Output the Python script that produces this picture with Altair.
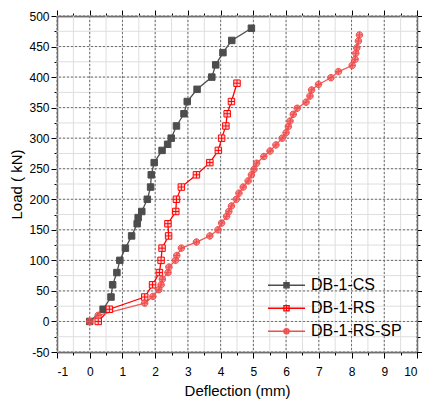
import altair as alt
import pandas as pd

# ---------------- data ----------------
series_names = ["DB-1-CS", "DB-1-RS", "DB-1-RS-SP"]

cs_x = [0, 0.41, 0.65, 0.70, 0.83, 0.92, 1.09, 1.28, 1.45, 1.48, 1.59, 1.76, 1.86, 1.88,
        1.97, 2.21, 2.38, 2.49, 2.65, 2.88, 2.98, 3.28, 3.73, 3.85, 4.07, 4.34, 4.94]
cs_load = [0, 20, 40, 60, 80, 100, 120, 140, 160, 170, 180, 200, 220, 240,
           260, 280, 290, 300, 320, 340, 360, 380, 400, 420, 440, 460, 480]

rs_x = [0.26, 0.60, 1.68, 1.92, 2.13, 2.18, 2.21, 2.41, 2.39, 2.63, 2.65, 2.80, 3.26,
        3.67, 3.93, 4.03, 4.16, 4.20, 4.33, 4.50]
rs_load = [0, 20, 40, 60, 80, 100, 120, 140, 160, 180, 200, 220, 240,
           260, 280, 300, 320, 340, 360, 390]

sp_x = [0, 0.26, 1.68, 1.93, 2.11, 2.18, 2.22, 2.39, 2.42, 2.62, 2.66, 2.80, 3.26, 3.67,
        3.92, 4.03, 4.18, 4.25, 4.33, 4.48, 4.56, 4.69, 4.84, 4.94, 5.02, 5.10, 5.32,
        5.51, 5.69, 5.88, 6.00, 6.07, 6.12, 6.22, 6.34, 6.61, 6.73, 6.78, 6.99, 7.37,
        7.60, 8.02, 8.11, 8.13, 8.16, 8.21, 8.24]
sp_load = [0, 10, 30, 41, 52, 60, 69, 80, 89, 100, 108, 120, 130, 140,
           150, 161, 172, 180, 189, 200, 210, 220, 230, 240, 249, 259, 270,
           279, 289, 300, 309, 319, 328, 339, 349, 359, 369, 379, 388, 399,
           409, 419, 429, 439, 448, 459, 469]

x_major = list(range(-1, 11))
x_minor = [v + 0.5 for v in range(-1, 10)]
x_light = [v * 0.5 for v in range(-2, 21)]
y_major = list(range(-50, 501, 50))
y_minor = list(range(-25, 500, 50))
y_light = list(range(-50, 501, 25))

# ---------------- build tables ----------------
rows = []
for name, xs_, ys_ in zip(series_names, [cs_x, rs_x, sp_x], [cs_load, rs_load, sp_load]):
    for i, (a, b) in enumerate(zip(xs_, ys_)):
        rows.append({"series": name, "defl": a, "load": b, "order": i})
df = pd.DataFrame(rows)

FONT = "Liberation Sans"
xs = alt.Scale(domain=[-1, 10], nice=False, zero=False)
ys = alt.Scale(domain=[-50, 500], nice=False, zero=False)

line_colors = ["#4d4d4d", "#ff0000", "#f25a5a"]
stroke_colors = ["#4d4d4d", "#ff0000", "#f04f4f"]
fill_colors = ["#4d4d4d", "#ffd6d6", "rgba(240,80,80,0.65)"]

SQ = "M-1,-1H1V1H-1Z"
SQX = "M-1,-1H1V1H-1Z M-1,0H1 M0,-1V1"
CIX = "M-1,0A1,1 0 1,0 1,0A1,1 0 1,0 -1,0Z M-1,0H1 M0,-1V1"
marker_paths = [SQ, SQX, CIX]

k = 0.14
LSQ = f"M-1,0H1 M-{k},-{k}H{k}V{k}H-{k}Z"
LSQX = f"M-1,0H1 M-{k},-{k}H{k}V{k}H-{k}Z M0,-{k}V{k}"
LCIX = f"M-1,0H1 M-{k},0A{k},{k} 0 1,0 {k},0A{k},{k} 0 1,0 -{k},0Z M0,-{k}V{k}"
legend_paths = [LSQ, LSQX, LCIX]


def ax(orient, values, size, domain=False):
    return alt.Axis(orient=orient, values=values, tickSize=size, labels=False, domain=domain,
                    grid=False, tickColor="black", tickWidth=1, domainColor="black",
                    domainWidth=1.3, title=None)


# minor (light) grid + minor ticks bottom/left
g_lx = alt.Chart(pd.DataFrame({"v": x_light})).mark_rule(color="#dedede", strokeWidth=1).encode(
    x=alt.X("v:Q", scale=xs, axis=ax("bottom", x_minor, 3)))
g_ly = alt.Chart(pd.DataFrame({"v": y_light})).mark_rule(color="#dedede", strokeWidth=1).encode(
    y=alt.Y("v:Q", scale=ys, axis=ax("left", y_minor, 3)))

# major dotted grid + labelled axes
g_mx = alt.Chart(pd.DataFrame({"v": x_major})).mark_rule(
    color="#6e6e6e", strokeWidth=1, strokeDash=[2, 2]).encode(
    x=alt.X("v:Q", scale=xs, axis=alt.Axis(orient="bottom", values=x_major, tickSize=6,
                                           labelPadding=8, domain=True, grid=False,
                                           tickColor="black", domainColor="black",
                                           domainWidth=1.3, title="Deflection (mm)",
                                           titlePadding=6, labelExpr="'' + datum.value")))
g_my = alt.Chart(pd.DataFrame({"v": y_major})).mark_rule(
    color="#6e6e6e", strokeWidth=1, strokeDash=[2, 2]).encode(
    y=alt.Y("v:Q", scale=ys, axis=alt.Axis(orient="left", values=y_major, tickSize=6,
                                           labelPadding=2, domain=True, grid=False,
                                           tickColor="black", domainColor="black",
                                           domainWidth=1.3, title="Load ( kN)",
                                           titlePadding=4, labelExpr="'' + datum.value")))

# data lines (top/right major ticks)
lines = alt.Chart(df).mark_line(strokeWidth=1.3).encode(
    x=alt.X("defl:Q", scale=xs, axis=ax("top", x_major, 6, domain=True)),
    y=alt.Y("load:Q", scale=ys, axis=ax("right", y_major, 6, domain=True)),
    color=alt.Color("series:N", scale=alt.Scale(domain=series_names, range=line_colors),
                    legend=None),
    detail="series:N",
    order="order:Q",
)

# data markers (top/right minor ticks)
points = alt.Chart(df).mark_point(opacity=1, strokeWidth=1, filled=False).encode(
    x=alt.X("defl:Q", scale=xs, axis=ax("top", x_minor, 3)),
    y=alt.Y("load:Q", scale=ys, axis=ax("right", y_minor, 3)),
    stroke=alt.Stroke("series:N", scale=alt.Scale(domain=series_names, range=stroke_colors),
                      legend=None),
    fill=alt.Fill("series:N", scale=alt.Scale(domain=series_names, range=fill_colors),
                  legend=None),
    shape=alt.Shape("series:N", scale=alt.Scale(domain=series_names, range=marker_paths),
                    legend=None),
    size=alt.value(42),
)

leg = dict(title=None, orient="none", legendX=210, legendY=258, symbolSize=1369,
           symbolStrokeWidth=1.3, labelFont=FONT, labelFontSize=16, labelColor="black",
           labelOffset=5, rowPadding=0, padding=0, clipHeight=22.5)

legend_layer = alt.Chart(df).mark_point(opacity=1, strokeWidth=1.3).encode(
    x=alt.X("defl:Q", scale=xs, axis=None),
    y=alt.Y("load:Q", scale=ys, axis=None),
    stroke=alt.Stroke("series:N", scale=alt.Scale(domain=series_names, range=stroke_colors),
                      legend=alt.Legend(**leg)),
    fill=alt.Fill("series:N", scale=alt.Scale(domain=series_names, range=fill_colors),
                  legend=alt.Legend(**leg)),
    shape=alt.Shape("series:N", scale=alt.Scale(domain=series_names, range=legend_paths),
                    legend=alt.Legend(**leg)),
    size=alt.value(1369),
).transform_filter("datum.load < -1000")

chart = alt.layer(g_lx, g_ly, g_mx, g_my, lines, points, legend_layer).resolve_scale(
    x="independent", y="independent", shape="independent", fill="independent",
    stroke="independent", color="independent"
).properties(
    width=360, height=336,
    padding={"left": 57, "top": 16, "right": 5, "bottom": 53},
    autosize=alt.AutoSizeParams(type="none"),
    background="white",
).configure_view(stroke=None).configure_axis(
    labelFont=FONT, titleFont=FONT, labelFontSize=12, titleFontSize=15,
    titleFontWeight="normal", labelColor="black", titleColor="black",
)

chart.save("out.html", embed_options={"renderer": "svg", "actions": False})
